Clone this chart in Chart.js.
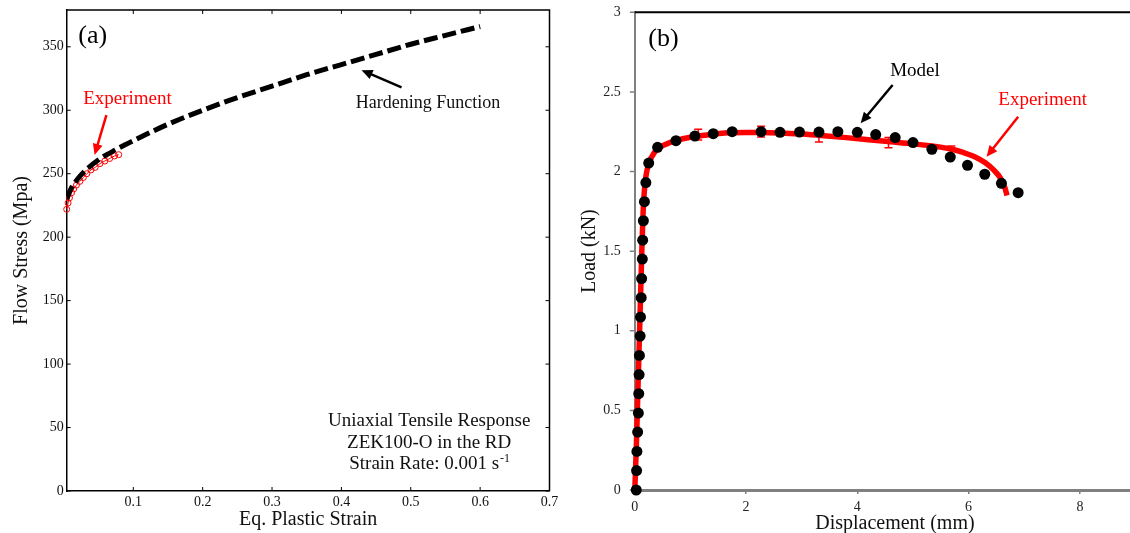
<!DOCTYPE html>
<html>
<head>
<meta charset="utf-8">
<script src="https://cdn.jsdelivr.net/npm/chart.js@4.4.1/dist/chart.umd.min.js"></script>
<style>
  html, body { margin: 0; padding: 0; background: #fff; }
  body { width: 1130px; height: 533px; overflow: hidden; position: relative; }
  canvas { position: absolute; top: 0; }
  #chartA { left: 0; }
  #chartB { left: 565px; }
</style>
</head>
<body>
<canvas id="chartA" width="565" height="533"></canvas>
<canvas id="chartB" width="600" height="540"></canvas>
<script>
// (a) flow stress vs eq. plastic strain
var hardStrain = [0.004, 0.01, 0.02, 0.03, 0.05, 0.075, 0.1, 0.15, 0.2, 0.25, 0.3, 0.35, 0.4, 0.45, 0.5, 0.55, 0.6];
var hardStress = [230, 238, 246, 252, 261, 269, 276, 289, 300, 310, 319, 328, 336, 344, 352, 359, 366];
var expStrain = [0.004, 0.006, 0.008, 0.011, 0.014, 0.018, 0.023, 0.028, 0.033, 0.039, 0.045, 0.052, 0.059, 0.066, 0.073, 0.079];
var expStress = [222, 227, 231, 235, 238, 241, 244, 247, 250, 253, 255, 258, 260, 262, 264, 265];
var aXTicks = [0.1, 0.2, 0.3, 0.4, 0.5, 0.6, 0.7];
var aYTicks = [0, 50, 100, 150, 200, 250, 300, 350];

// (b) load vs displacement
var modelDisp = [0.026, 0.032, 0.038, 0.051, 0.064, 0.071, 0.077, 0.083, 0.096, 0.103, 0.115, 0.122, 0.135, 0.141, 0.154, 0.173, 0.199, 0.25,
                 0.41, 0.74, 1.08, 1.41, 1.75, 2.27, 2.61, 2.96, 3.31, 3.65, 4.0, 4.33, 4.68, 5.0, 5.34, 5.67, 5.98, 6.29, 6.59, 6.89];
var modelLoad = [0, 0.122, 0.242, 0.364, 0.483, 0.605, 0.725, 0.845, 0.967, 1.086, 1.208, 1.328, 1.45, 1.569, 1.691, 1.811, 1.931, 2.053,
                 2.152, 2.194, 2.223, 2.238, 2.25, 2.25, 2.246, 2.248, 2.248, 2.25, 2.246, 2.232, 2.213, 2.182, 2.14, 2.091, 2.039, 1.983, 1.926, 1.867];
var testDisp = [0, 0.03, 0.05, 0.07, 0.09, 0.11, 0.13, 0.15, 0.17, 0.2, 0.25, 0.3, 0.4, 0.55, 0.75, 1.0, 1.3, 1.7, 2.0, 2.3, 2.7, 3.0, 3.4, 3.8,
                4.2, 4.6, 5.0, 5.4, 5.7, 5.9, 6.1, 6.3, 6.45, 6.57, 6.65, 6.69];
var testLoad = [0, 0.3, 0.55, 0.8, 1.05, 1.3, 1.55, 1.75, 1.87, 1.97, 2.05, 2.09, 2.14, 2.17, 2.195, 2.215, 2.23, 2.243, 2.245, 2.245, 2.24, 2.235,
                2.225, 2.213, 2.2, 2.187, 2.174, 2.158, 2.14, 2.12, 2.095, 2.055, 2.01, 1.96, 1.9, 1.85];
var errDisp = [1.14, 2.27, 3.31, 4.56, 5.69];
var errLow = [2.198, 2.217, 2.186, 2.15, 2.097];
var errHigh = [2.265, 2.284, 2.255, 2.213, 2.16];
var bXTicks = [0, 2, 4, 6, 8];
var bYTicks = [0, 0.5, 1, 1.5, 2, 2.5, 3];

var SERIF = '"Liberation Serif", "Times New Roman", serif';

function pts(xs, ys) {
    return xs.map(function (x, i) { return {x: x, y: ys[i]}; });
}

function arrow(ctx, x1, y1, x2, y2, color) {
    var a = Math.atan2(y2 - y1, x2 - x1), hl = 11, hw = 5;
    ctx.save();
    ctx.strokeStyle = color;
    ctx.fillStyle = color;
    ctx.lineWidth = 2.5;
    ctx.beginPath();
    ctx.moveTo(x1, y1);
    ctx.lineTo(x2 - hl * 0.8 * Math.cos(a), y2 - hl * 0.8 * Math.sin(a));
    ctx.stroke();
    ctx.beginPath();
    ctx.moveTo(x2, y2);
    ctx.lineTo(x2 - hl * Math.cos(a) + hw * Math.sin(a), y2 - hl * Math.sin(a) - hw * Math.cos(a));
    ctx.lineTo(x2 - hl * Math.cos(a) - hw * Math.sin(a), y2 - hl * Math.sin(a) + hw * Math.cos(a));
    ctx.closePath();
    ctx.fill();
    ctx.restore();
}

// labels and arrows are placed in data units
function drawNotes(chart, notes, arrows) {
    var ctx = chart.ctx, xs = chart.scales.x, ys = chart.scales.y;
    ctx.save();
    ctx.textBaseline = 'middle';
    notes.forEach(function (n) {
        ctx.font = n.size + 'px ' + SERIF;
        ctx.fillStyle = n.color;
        ctx.textAlign = n.align || 'center';
        var px = xs.getPixelForValue(n.x), py = ys.getPixelForValue(n.y);
        if (n.sup) {
            var w1 = ctx.measureText(n.text).width;
            ctx.font = Math.round(n.size * 0.62) + 'px ' + SERIF;
            var w2 = ctx.measureText(n.sup).width;
            ctx.textAlign = 'left';
            var x0 = px - (w1 + w2) / 2;
            ctx.fillText(n.sup, x0 + w1 + 1, py - 5);
            ctx.font = n.size + 'px ' + SERIF;
            ctx.fillText(n.text, x0, py);
        } else {
            ctx.fillText(n.text, px, py);
        }
    });
    ctx.restore();
    arrows.forEach(function (a) {
        arrow(ctx, xs.getPixelForValue(a.x1), ys.getPixelForValue(a.y1),
              xs.getPixelForValue(a.x2), ys.getPixelForValue(a.y2), a.color);
    });
}

var notesA = [
    {text: '(a)', x: 0.0207, y: 358.4, size: 26, color: '#000', align: 'left'},
    {text: 'Experiment', x: 0.0916, y: 309.1, size: 19, color: '#ff0000'},
    {text: 'Hardening Function', x: 0.525, y: 305.4, size: 18, color: '#111'},
    {text: 'Uniaxial Tensile Response', x: 0.5265, y: 55.1, size: 19, color: '#111'},
    {text: 'ZEK100-O in the RD', x: 0.5265, y: 37.8, size: 19, color: '#111'},
    {text: 'Strain Rate: 0.001 s', sup: '-1', x: 0.5265, y: 21.3, size: 19, color: '#111'}
];
var arrowsA = [
    {x1: 0.0612, y1: 296.2, x2: 0.0442, y2: 264.8, color: '#ff0000'},
    {x1: 0.4867, y1: 318, x2: 0.4291, y2: 331.6, color: '#000'}
];
var notesB = [
    {text: '(b)', x: 0.243, y: 2.831, size: 26, color: '#000', align: 'left'},
    {text: 'Model', x: 5.035, y: 2.633, size: 19, color: '#000'},
    {text: 'Experiment', x: 7.33, y: 2.449, size: 19, color: '#ff0000'}
];
var arrowsB = [
    {x1: 4.634, y1: 2.543, x2: 4.059, y2: 2.303, color: '#000'},
    {x1: 6.891, y1: 2.344, x2: 6.323, y2: 2.093, color: '#ff0000'}
];

var decorA = {
    id: 'decorA',
    afterDraw: function (chart) {
        var ctx = chart.ctx, ca = chart.chartArea, xs = chart.scales.x, ys = chart.scales.y;
        ctx.save();
        ctx.strokeStyle = '#000';
        ctx.lineWidth = 1.5;
        ctx.beginPath();
        ctx.moveTo(ca.left, ca.top);
        ctx.lineTo(ca.right, ca.top);
        ctx.lineTo(ca.right, ca.bottom);
        ctx.stroke();
        // inward ticks on all four sides
        ctx.lineWidth = 1;
        ctx.beginPath();
        xs.ticks.forEach(function (t) {
            var px = xs.getPixelForValue(t.value);
            ctx.moveTo(px, ca.bottom); ctx.lineTo(px, ca.bottom - 4);
            ctx.moveTo(px, ca.top); ctx.lineTo(px, ca.top + 4);
        });
        ys.ticks.forEach(function (t) {
            var py = ys.getPixelForValue(t.value);
            ctx.moveTo(ca.left, py); ctx.lineTo(ca.left + 4, py);
            ctx.moveTo(ca.right, py); ctx.lineTo(ca.right - 4, py);
        });
        ctx.stroke();
        ctx.restore();
        drawNotes(chart, notesA, arrowsA);
    }
};

var decorB = {
    id: 'decorB',
    beforeDatasetsDraw: function (chart) {
        var ctx = chart.ctx, ca = chart.chartArea, xs = chart.scales.x, ys = chart.scales.y;
        ctx.save();
        // short grey ticks outside the load axis
        ctx.strokeStyle = '#808080';
        ctx.lineWidth = 1.5;
        ctx.beginPath();
        ys.ticks.forEach(function (t) {
            var py = ys.getPixelForValue(t.value);
            ctx.moveTo(ca.left - 5, py); ctx.lineTo(ca.left, py);
        });
        ctx.stroke();
        // error bars on the experiment
        ctx.strokeStyle = '#ff0000';
        ctx.beginPath();
        errDisp.forEach(function (x, i) {
            var px = xs.getPixelForValue(x);
            var lo = ys.getPixelForValue(errLow[i]), hi = ys.getPixelForValue(errHigh[i]);
            ctx.moveTo(px, lo); ctx.lineTo(px, hi);
            ctx.moveTo(px - 4, lo); ctx.lineTo(px + 4, lo);
            ctx.moveTo(px - 4, hi); ctx.lineTo(px + 4, hi);
        });
        ctx.stroke();
        ctx.restore();
    },
    afterDraw: function (chart) {
        var ctx = chart.ctx, ca = chart.chartArea;
        ctx.save();
        ctx.strokeStyle = '#000';
        ctx.lineWidth = 2;
        ctx.beginPath();
        ctx.moveTo(ca.left, ca.top);
        ctx.lineTo(chart.width, ca.top);
        ctx.stroke();
        ctx.restore();
        drawNotes(chart, notesB, arrowsB);
    }
};

new Chart(document.getElementById('chartA'), {
    type: 'scatter',
    data: {
        datasets: [{
            label: 'Hardening Function',
            data: pts(hardStrain, hardStress),
            showLine: true,
            borderColor: '#000',
            borderWidth: 5,
            borderDash: [14, 5],
            pointRadius: 0,
            cubicInterpolationMode: 'monotone'
        }, {
            label: 'Experiment',
            data: pts(expStrain, expStress),
            showLine: true,
            borderColor: '#ff0000',
            borderWidth: 1,
            pointRadius: 3,
            pointBackgroundColor: 'rgba(0,0,0,0)',
            pointBorderColor: '#ff0000',
            pointBorderWidth: 1,
            clip: false
        }]
    },
    options: {
        responsive: false,
        animation: false,
        events: [],
        layout: {padding: {left: 0, top: 10, right: 15.5, bottom: 0}},
        plugins: {legend: {display: false}, tooltip: {enabled: false}},
        scales: {
            x: {
                type: 'linear', min: 0.004, max: 0.7,
                afterFit: function (s) { s.height = 42; },
                afterBuildTicks: function (s) { s.ticks = aXTicks.map(function (v) { return {value: v}; }); },
                grid: {display: false, drawTicks: true, tickLength: 3},
                border: {display: true, color: '#000', width: 1.5},
                ticks: {padding: 0, color: '#111', maxRotation: 0, autoSkip: false,
                        font: {family: SERIF, size: 14}, callback: function (v) { return String(v); }},
                title: {display: true, text: 'Eq. Plastic Strain', color: '#111',
                        font: {family: SERIF, size: 20}, padding: {top: 0, bottom: 1}}
            },
            y: {
                type: 'linear', min: 0, max: 379,
                afterFit: function (s) { s.width = 66.7; },
                afterBuildTicks: function (s) { s.ticks = aYTicks.map(function (v) { return {value: v}; }); },
                grid: {display: false, drawTicks: true, tickLength: 3},
                border: {display: true, color: '#000', width: 1.5},
                ticks: {padding: 0, color: '#111', autoSkip: false,
                        font: {family: SERIF, size: 14}, callback: function (v) { return String(v); }},
                title: {display: true, text: 'Flow Stress (Mpa)', color: '#111',
                        font: {family: SERIF, size: 20}, padding: {top: 10, bottom: 0}}
            }
        }
    },
    plugins: [decorA]
});

new Chart(document.getElementById('chartB'), {
    type: 'scatter',
    data: {
        datasets: [{
            label: 'Model',
            data: pts(modelDisp, modelLoad),
            showLine: false,
            pointRadius: 5.5,
            pointBackgroundColor: '#000',
            pointBorderColor: '#000',
            pointBorderWidth: 0,
            clip: false
        }, {
            label: 'Experiment',
            data: pts(testDisp, testLoad),
            showLine: true,
            borderColor: '#ff0000',
            borderWidth: 5.5,
            pointRadius: 0,
            cubicInterpolationMode: 'monotone',
            clip: false
        }]
    },
    options: {
        responsive: false,
        animation: false,
        events: [],
        layout: {padding: {left: 0, top: 12.3, right: 10, bottom: 0}},
        plugins: {legend: {display: false}, tooltip: {enabled: false}},
        scales: {
            x: {
                type: 'linear', min: 0, max: 9.35,
                afterFit: function (s) { s.height = 50; },
                afterBuildTicks: function (s) { s.ticks = bXTicks.map(function (v) { return {value: v}; }); },
                grid: {display: true, drawOnChartArea: false, drawTicks: true, tickLength: 4, color: '#808080', lineWidth: 1.5},
                border: {display: true, color: '#808080', width: 3},
                ticks: {padding: 5, color: '#222', maxRotation: 0, autoSkip: false,
                        font: {family: SERIF, size: 14}, callback: function (v) { return String(v); }},
                title: {display: true, text: 'Displacement (mm)', color: '#111',
                        font: {family: SERIF, size: 20}, padding: {top: 0, bottom: 3.8}}
            },
            y: {
                type: 'linear', min: 0, max: 3,
                afterFit: function (s) { s.width = 69.8; },
                afterBuildTicks: function (s) { s.ticks = bYTicks.map(function (v) { return {value: v}; }); },
                grid: {display: false, drawTicks: true, tickLength: 14},
                border: {display: true, color: '#808080', width: 2},
                ticks: {padding: 0, color: '#222', autoSkip: false,
                        font: {family: SERIF, size: 14}, callback: function (v) { return String(v); }},
                title: {display: true, text: 'Load (kN)', color: '#111',
                        font: {family: SERIF, size: 20}, padding: {top: 13, bottom: 0}}
            }
        }
    },
    plugins: [decorB]
});
</script>
</body>
</html>
